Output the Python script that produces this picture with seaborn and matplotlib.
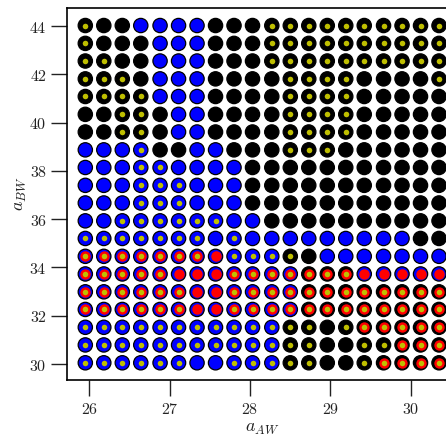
import matplotlib
matplotlib.use("Agg")
import matplotlib.pyplot as plt
import pandas as pd
import seaborn as sns

# Grid of lattice parameters
a_AW = [25.95, 26.18, 26.41, 26.64, 26.88, 27.11, 27.34, 27.57, 27.80, 28.03,
        28.27, 28.50, 28.73, 28.96, 29.19, 29.42, 29.66, 29.89, 30.12, 30.35]
a_BW = [44.02, 43.28, 42.55, 41.81, 41.08, 40.34, 39.61, 38.87, 38.14, 37.40,
        36.67, 35.93, 35.20, 34.46, 33.73, 32.99, 32.26, 31.52, 30.79, 30.05]

# Phase state per grid point, one string per a_BW row (top to bottom).
# First letter: base phase (K = black, B = blue); R: red phase present; Y: yellow phase present.
states = [
    "KY K K B B B B K K K KY KY KY KY KY KY KY KY KY KY",
    "KY K K K B B B K K K KY KY KY KY KY KY KY KY KY KY",
    "KY KY K K B B B K K K KY KY KY KY KY KY KY KY KY KY",
    "KY KY KY K B B B K K K K KY KY KY KY K K K K KY",
    "KY KY KY KY B B B K K K K KY KY KY KY K K K K K",
    "K K KY KY K B B K K K K KY KY KY KY K K K K K",
    "K K KY KY K B B K K K K KY KY KY KY K K K K K",
    "B B B BY K K B B K K K KY KY KY K K K K K K",
    "B B B BY BY B B B B K K K K K K K K K K K",
    "B B B BY BY BY B B B K K K K K K K K K K K",
    "B B B BY BY BY B B B K K K K K K K K K K K",
    "B B BY BY BY BY BY BY B B K K K K K K K K K K",
    "BY BY BY BY BY BY BY B BY B B B B B B B B B K K",
    "BRY BRY BRY BRY BRY BRY BRY BR BY BY BY KY K B B B B B B B",
    "BRY BRY BRY BRY BRY BR BR BR BRY BRY BRY BRY KRY KRY KRY BR BR BR BR BR",
    "BRY BRY BRY BRY BRY BRY BR BR BRY BRY BRY BRY KRY KRY KRY KRY KRY KRY KRY KRY",
    "BRY BRY BRY BRY BRY BRY BR BR BRY BRY BRY BRY KRY KRY KRY KRY KRY KRY KRY KRY",
    "BY BY BY BY BY BY BY BY BY BY BY KY KY K KY KRY KRY KRY KRY KRY",
    "BY BY BY BY BY BY BY BY BY BY BY KY KY K K KY KY KRY KRY KRY",
    "BY BY BY BY BY BY B B BY BY BY KY KY K K KY KRY KRY KRY KRY",
]

records = []
for y, row in zip(a_BW, states):
    for x, tok in zip(a_AW, row.split()):
        records.append({"a_AW": x, "a_BW": y, "base": tok[0],
                        "red": "R" in tok, "yellow": "Y" in tok})
df = pd.DataFrame(records)

sns.set_theme(style="ticks")
plt.rcParams["mathtext.fontset"] = "cm"
plt.rcParams["font.family"] = ["DejaVu Serif"]

BLACK, BLUE, RED, YELLOW = "#000000", "#0000ff", "#ff0000", "#bfbf00"

fig = plt.figure(figsize=(4.46, 4.37), dpi=100)
ax = fig.add_axes([0.1509, 0.1304, 0.8738, 0.8506])

# Base phase disc
sns.scatterplot(data=df, x="a_AW", y="a_BW", hue="base",
                palette={"K": BLACK, "B": BLUE}, s=106, edgecolor=BLACK,
                linewidth=0.9, legend=False, ax=ax, zorder=2)
# Red phase ring
sns.scatterplot(data=df[df["red"]], x="a_AW", y="a_BW", color=RED, s=56,
                linewidth=0, legend=False, ax=ax, zorder=3)
# Yellow phase dot
sns.scatterplot(data=df[df["yellow"]], x="a_AW", y="a_BW", color=YELLOW, s=16,
                linewidth=0, legend=False, ax=ax, zorder=4)

ax.set_xlim(25.726, 30.574)
ax.set_ylim(29.337, 44.733)

xt = [26, 27, 28, 29, 30]
yt = [30, 32, 34, 36, 38, 40, 42, 44]
ax.set_xticks(xt)
ax.set_xticklabels([f"${v}$" for v in xt])
ax.set_yticks(yt)
ax.set_yticklabels([f"${v}$" for v in yt])
ax.tick_params(direction="out", length=11.2, width=1.0, pad=3.6,
               labelsize=11.5, color="#222222", labelcolor="#222222")
for sp in ax.spines.values():
    sp.set_visible(True)
    sp.set_linewidth(1.2)
    sp.set_color(BLACK)

ax.set_xlabel(r"$a_{AW}$", fontsize=13, labelpad=1, color="#222222")
ax.set_ylabel(r"$a_{BW}$", fontsize=13, labelpad=0, color="#222222")

fig.savefig("out.png", dpi=100)
